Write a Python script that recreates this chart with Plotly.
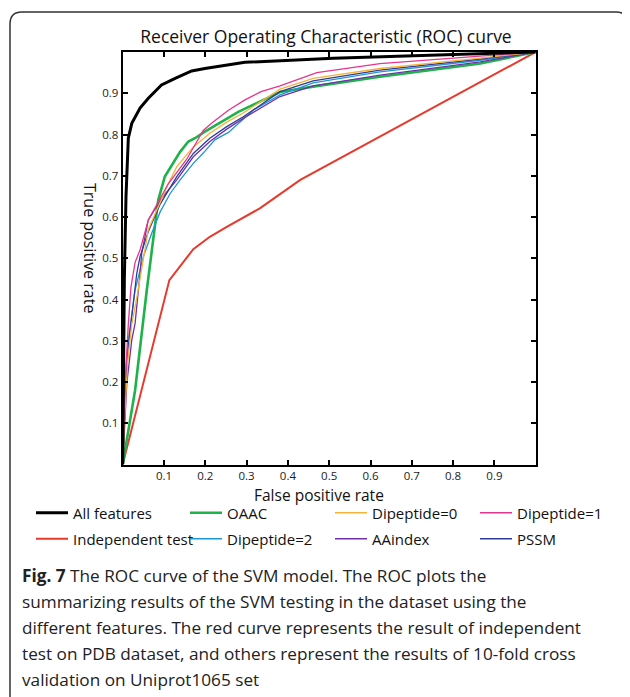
import plotly.graph_objects as go

# page body has an 8px margin; figure coordinates are window coordinates minus OFF
OFF = 8
W, H = 622, 689

# ---- data ----
all_fpr = [0, 0.002, 0.004, 0.008, 0.011, 0.0136, 0.022, 0.042, 0.062, 0.094, 0.127, 0.167, 0.199, 0.248, 0.296, 0.51, 0.9, 1.0]
all_tpr = [0, 0.2, 0.45, 0.65, 0.76, 0.791, 0.827, 0.864, 0.888, 0.92, 0.936, 0.954, 0.96, 0.968, 0.975, 0.985, 0.997, 1.0]

oaac_fpr = [0, 0.03, 0.058, 0.078, 0.086, 0.102, 0.119, 0.139, 0.159, 0.175, 0.199, 0.24, 0.28, 0.381, 0.461, 0.623, 0.866, 1.0]
oaac_tpr = [0, 0.18, 0.42, 0.576, 0.641, 0.698, 0.726, 0.758, 0.783, 0.791, 0.807, 0.831, 0.855, 0.903, 0.916, 0.94, 0.972, 1.0]

dip0_fpr = [0, 0.004, 0.012, 0.022, 0.036, 0.05, 0.062, 0.086, 0.11, 0.131, 0.171, 0.211, 0.252, 0.292, 0.381, 0.461, 0.623, 0.866, 1.0]
dip0_tpr = [0, 0.1, 0.25, 0.34, 0.415, 0.5, 0.57, 0.625, 0.68, 0.722, 0.77, 0.803, 0.83, 0.852, 0.91, 0.936, 0.96, 0.985, 1.0]

dip1_fpr = [0, 0.003, 0.006, 0.0136, 0.02, 0.03, 0.042, 0.062, 0.09, 0.11, 0.155, 0.175, 0.195, 0.215, 0.256, 0.296, 0.335, 0.381, 0.47, 0.623, 0.866, 1.0]
dip1_tpr = [0, 0.1, 0.2, 0.34, 0.43, 0.49, 0.52, 0.593, 0.645, 0.68, 0.74, 0.775, 0.81, 0.827, 0.859, 0.884, 0.904, 0.918, 0.95, 0.972, 0.99, 1.0]

indep_fpr = [0, 0.113, 0.171, 0.211, 0.252, 0.332, 0.43, 1.0]
indep_tpr = [0, 0.447, 0.522, 0.552, 0.576, 0.621, 0.69, 1.0]

dip2_fpr = [0, 0.003, 0.0056, 0.0136, 0.03, 0.05, 0.07, 0.091, 0.115, 0.139, 0.171, 0.195, 0.223, 0.256, 0.296, 0.316, 0.381, 0.461, 0.623, 0.866, 1.0]
dip2_tpr = [0, 0.1, 0.205, 0.302, 0.423, 0.504, 0.56, 0.613, 0.657, 0.69, 0.73, 0.755, 0.787, 0.805, 0.84, 0.859, 0.896, 0.925, 0.952, 0.98, 1.0]

aai_fpr = [0, 0.004, 0.01, 0.022, 0.03, 0.042, 0.046, 0.062, 0.094, 0.131, 0.171, 0.211, 0.252, 0.292, 0.381, 0.461, 0.623, 0.866, 1.0]
aai_tpr = [0, 0.08, 0.197, 0.302, 0.342, 0.463, 0.512, 0.593, 0.645, 0.69, 0.746, 0.783, 0.813, 0.839, 0.892, 0.918, 0.944, 0.976, 1.0]

pssm_fpr = [0, 0.003, 0.008, 0.0136, 0.026, 0.034, 0.042, 0.062, 0.09, 0.131, 0.171, 0.211, 0.252, 0.292, 0.381, 0.461, 0.623, 0.866, 1.0]
pssm_tpr = [0, 0.09, 0.2, 0.286, 0.4, 0.463, 0.504, 0.565, 0.63, 0.698, 0.754, 0.791, 0.819, 0.843, 0.904, 0.93, 0.956, 0.983, 1.0]

tick_vals = [0.1, 0.2, 0.3, 0.4, 0.5, 0.6, 0.7, 0.8, 0.9]
tick_text = ["0.1", "0.2", "0.3", "0.4", "0.5", "0.6", "0.7", "0.8", "0.9"]

caption_lines = [
    "<b>Fig. 7</b> The ROC curve of the SVM model. The ROC plots the",
    "summarizing results of the SVM testing in the dataset using the",
    "different features. The red curve represents the result of independent",
    "test on PDB dataset, and others represent the results of 10-fold cross",
    "validation on Uniprot1065 set",
]

FONT = "Open Sans"


def px(x):
    return (x - OFF) / W


def py(y):
    return 1 - (y - OFF) / H


# name, x, y, colour, width, legend, legend rank (list order = drawing order)
series = [
    ("Independent test", indep_fpr, indep_tpr, "#e8392d", 2.0, "legend2", 1),
    ("OAAC", oaac_fpr, oaac_tpr, "#1db34a", 2.6, "legend", 2),
    ("Dipeptide=2", dip2_fpr, dip2_tpr, "#1e96d4", 1.3, "legend2", 2),
    ("AAindex", aai_fpr, aai_tpr, "#7030a8", 1.3, "legend2", 3),
    ("PSSM", pssm_fpr, pssm_tpr, "#2e3c98", 1.3, "legend2", 4),
    ("Dipeptide=0", dip0_fpr, dip0_tpr, "#f5b335", 1.3, "legend", 3),
    ("Dipeptide=1", dip1_fpr, dip1_tpr, "#e8348e", 1.3, "legend", 4),
    ("All features", all_fpr, all_tpr, "#000000", 3.0, "legend", 1),
]

fig = go.Figure()
for name, xs, ys, col, lw, lg, rank in series:
    fig.add_trace(go.Scatter(
        x=xs, y=ys, mode="lines", name=name,
        line=dict(color=col, width=lw),
        legend=lg, legendrank=rank,
        legendwidth=107 if rank == 1 else 98,
    ))

axis_common = dict(
    range=[0, 1], tickvals=tick_vals, ticktext=tick_text,
    ticks="inside", ticklen=5, tickwidth=1.5, tickcolor="#000",
    showline=True, linecolor="#000", linewidth=2, mirror="ticks",
    showgrid=False, zeroline=False,
    tickfont=dict(family=FONT, size=11.5, color="#222"),
)

legend_common = dict(
    orientation="h", xanchor="left", yanchor="middle",
    itemwidth=32, entrywidthmode="pixels", entrywidth=98,
    font=dict(family=FONT, size=15, color="#111"),
    bgcolor="rgba(0,0,0,0)", borderwidth=0,
)

fig.update_layout(
    width=W, height=H,
    margin=dict(l=0, r=0, t=0, b=0),
    paper_bgcolor="white", plot_bgcolor="white",
    font=dict(family=FONT, color="#111"),
    xaxis=dict(domain=[px(122.7), px(535.7)], ticklabelstandoff=0, **axis_common),
    yaxis=dict(domain=[py(464.5), py(52)], ticklabelstandoff=0, **axis_common),
    title=dict(text="Receiver Operating Characteristic (ROC) curve",
               x=px(326), y=py(37), xanchor="center", yanchor="middle",
               font=dict(family=FONT, size=17.5, color="#111")),
    legend=dict(x=px(31), y=py(513), **legend_common),
    legend2=dict(x=px(31), y=py(539), **legend_common),
    showlegend=True,
)

annotations = [
    dict(text="False positive rate", x=px(319), y=py(495), xref="paper", yref="paper",
         showarrow=False, xanchor="center", yanchor="middle",
         font=dict(family=FONT, size=15.5, color="#111")),
    dict(text="True positive rate", x=px(90), y=py(248), xref="paper", yref="paper",
         showarrow=False, xanchor="center", yanchor="middle", textangle=90,
         font=dict(family=FONT, size=16, color="#111")),
]
cap_y = [575, 601, 627, 653, 679]
for line, yy in zip(caption_lines, cap_y):
    annotations.append(dict(text=line, x=px(20), y=py(yy), xref="paper", yref="paper",
                            showarrow=False, xanchor="left", yanchor="middle",
                            font=dict(family=FONT, size=17.2, color="#222")))
fig.update_layout(annotations=annotations)

# rounded frame around the figure panel
L, T, R, B, r = 10, 12, 628, 720, 12
path = (f"M {px(L)},{py(B)} L {px(L)},{py(T + r)} Q {px(L)},{py(T)} {px(L + r)},{py(T)} "
        f"L {px(R - r)},{py(T)} Q {px(R)},{py(T)} {px(R)},{py(T + r)} L {px(R)},{py(B)}")
fig.add_shape(type="path", path=path, xref="paper", yref="paper",
              line=dict(color="#333", width=1.5))

fig.write_html("out.html")
